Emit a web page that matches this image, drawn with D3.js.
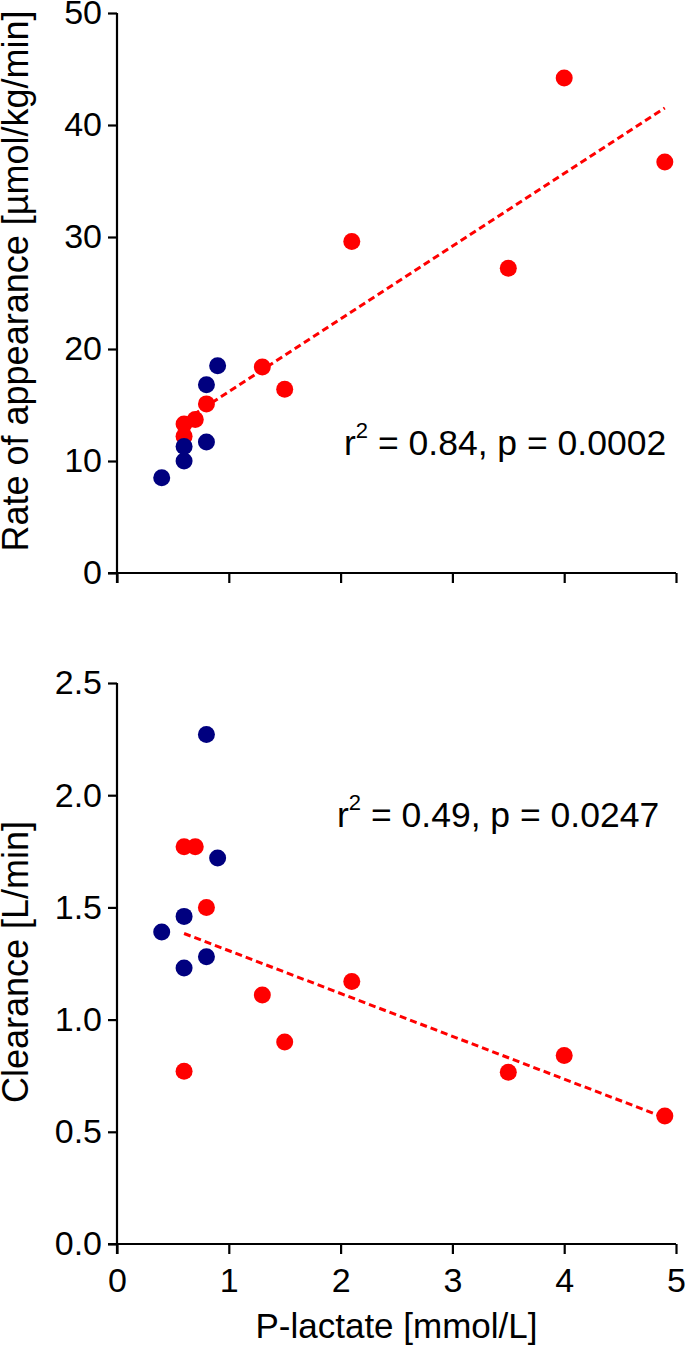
<!DOCTYPE html>
<html>
<head>
<meta charset="utf-8">
<script src="https://cdn.jsdelivr.net/npm/d3@7"></script>
<style>
  html, body { margin: 0; padding: 0; background: #fff; }
  svg { display: block; }
  text { font-family: "Liberation Sans", Arial, sans-serif; fill: #000; }
</style>
</head>
<body>
<svg id="chart" width="685" height="1350"></svg>
<script>
// ---- Data ----
const xTicks = [0, 1, 2, 3, 4, 5];
const raTicks = [0, 10, 20, 30, 40, 50];
const clTicks = [0, 0.5, 1.0, 1.5, 2.0, 2.5];

// Blue group (P-lactate, Ra, Clearance)
const blueLactate = [0.4, 0.6, 0.6, 0.8, 0.8, 0.9];
const blueRa      = [8.5, 10.0, 11.3, 11.7, 16.8, 18.5];
const blueCl      = [1.39, 1.23, 1.46, 1.28, 2.27, 1.72];

// Red group
const redLactate = [0.6, 0.6, 0.7, 0.8, 1.3, 1.5, 2.1, 3.5, 4.0, 4.9];
const redRa      = [12.2, 13.3, 13.7, 15.1, 18.4, 16.4, 29.6, 27.2, 44.2, 36.7];
const redCl      = [0.77, 1.77, 1.77, 1.50, 1.11, 0.90, 1.17, 0.765, 0.84, 0.57];

const statsTop = { r2: "0.84", p: "0.0002" };
const statsBottom = { r2: "0.49", p: "0.0247" };

const xTitle = "P-lactate [mmol/L]";
const raTitle = "Rate of appearance [\u00B5mol/kg/min]";
const clTitle = "Clearance [L/min]";

// ---- Drawing ----
const svg = d3.select("#chart");
const RED = "#ff0000", BLUE = "#00007f";

const x = d3.scaleLinear().domain([0, 5]).range([117, 676]);

function linreg(xs, ys) {
  const mx = d3.mean(xs), my = d3.mean(ys);
  let sxy = 0, sxx = 0;
  xs.forEach((v, i) => { sxy += (v - mx) * (ys[i] - my); sxx += (v - mx) * (v - mx); });
  const b = sxy / sxx;
  return { b, a: my - b * mx };
}

function panel(opts) {
  const { y, yTicks, yFmt, yTitle, titleY, redY, blueY, stats, statX, statY, showXLabels } = opts;
  const g = svg.append("g");
  const y0 = y.range()[0];

  // x axis
  const xa = g.append("g").attr("transform", `translate(0,${y0})`)
    .call(d3.axisBottom(x).tickValues(xTicks).tickSize(10).tickPadding(14)
      .tickFormat(showXLabels ? d3.format("d") : ""));
  // y axis
  const ya = g.append("g").attr("transform", `translate(${x(0)},0)`)
    .call(d3.axisLeft(y).tickValues(yTicks).tickSize(9).tickPadding(6).tickFormat(yFmt));
  [xa, ya].forEach(a => {
    a.select(".domain").attr("stroke", "#000").attr("stroke-width", 2.2);
    a.selectAll(".tick line").attr("stroke", "#000").attr("stroke-width", 2.2);
    a.selectAll("text").attr("font-size", 34).attr("font-family", "Liberation Sans, Arial, sans-serif").attr("fill", "#000");
  });
  xa.select(".domain").attr("d", `M${x(0) - 9},0H${x(5)}`);
  ya.select(".domain").attr("d", `M0,${y.range()[1]}V${y0 + 10}`);

  // y title
  g.append("text")
    .attr("transform", `translate(28,${titleY}) rotate(-90)`)
    .attr("text-anchor", "middle")
    .attr("font-size", 36)
    .text(yTitle);

  // regression line (red group)
  const r = linreg(redLactate, redY);
  const xmin = d3.min(redLactate), xmax = d3.max(redLactate);
  g.append("line")
    .attr("x1", x(xmin)).attr("y1", y(r.a + r.b * xmin))
    .attr("x2", x(xmax)).attr("y2", y(r.a + r.b * xmax))
    .attr("stroke", RED).attr("stroke-width", 3).attr("stroke-dasharray", "7,4");

  // points
  g.append("g").selectAll("circle").data(redLactate.map((v, i) => [v, redY[i]]))
    .join("circle").attr("cx", d => x(d[0])).attr("cy", d => y(d[1])).attr("r", 8.5).attr("fill", RED);
  g.append("g").selectAll("circle").data(blueLactate.map((v, i) => [v, blueY[i]]))
    .join("circle").attr("cx", d => x(d[0])).attr("cy", d => y(d[1])).attr("r", 8.5).attr("fill", BLUE);

  // stats annotation
  const t = g.append("text").attr("x", statX).attr("y", statY).attr("font-size", 35.5);
  t.append("tspan").text("r");
  t.append("tspan").attr("font-size", 22).attr("dy", -17).text("2");
  t.append("tspan").attr("dy", 17).text(` = ${stats.r2}, p = ${stats.p}`);
}

panel({
  y: d3.scaleLinear().domain([0, 50]).range([573, 13]),
  yTicks: raTicks, yFmt: d3.format("d"), yTitle: raTitle, titleY: 281,
  redY: redRa, blueY: blueRa, stats: statsTop, statX: 344, statY: 455, showXLabels: false
});
panel({
  y: d3.scaleLinear().domain([0, 2.5]).range([1244, 683]),
  yTicks: clTicks, yFmt: d3.format(".1f"), yTitle: clTitle, titleY: 962,
  redY: redCl, blueY: blueCl, stats: statsBottom, statX: 337, statY: 827, showXLabels: true
});

svg.append("text")
  .attr("x", x(2.5)).attr("y", 1338)
  .attr("text-anchor", "middle")
  .attr("font-size", 35)
  .text(xTitle);
</script>
</body>
</html>
